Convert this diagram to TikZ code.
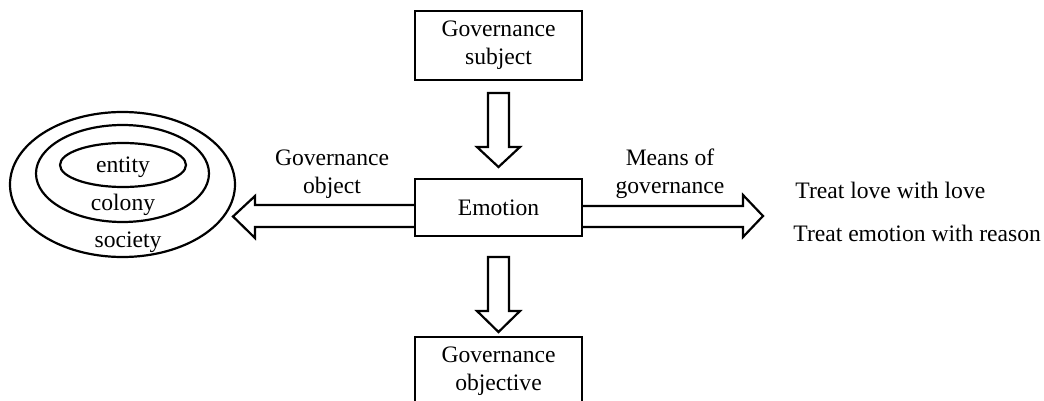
\documentclass[tikz,border=0pt]{standalone}
\usepackage{fontspec}
\setmainfont{Liberation Serif}
\begin{document}
\begin{tikzpicture}[x=0.5pt,y=-0.5pt,
  every node/.style={font=\fontsize{11.8}{14}\selectfont, inner sep=0pt, align=center},
  box/.style={draw, line width=1.1pt, minimum width=83.5pt},
  blk/.style={draw, line width=1.1pt, line join=miter, fill=white},
  ring/.style={draw, line width=1.1pt}]
\useasboundingbox (0,0) rectangle (1044,401);
% boxes
\node[box, minimum height=34.5pt] (sub) at (498.5,45.5) {Governance\\subject};
\node[box, minimum height=28.5pt] (emo) at (498.5,207.5) {Emotion};
\node[box, minimum height=34pt] (obj) at (498.5,371) {Governance\\objective};
% block arrows
\draw[blk] (488,93) -- (509,93) -- (509,147) -- (520,147) -- (498.5,167) -- (477,147) -- (488,147) -- cycle;
\draw[blk] (488,257) -- (509,257) -- (509,311) -- (520,311) -- (498.5,332) -- (477,311) -- (488,311) -- cycle;
\draw[blk] (emo.east |- 0,206) -- (743,206) -- (743,195) -- (763,216) -- (743,237) -- (743,227) -- (emo.east |- 0,227);
\draw[blk] (emo.west |- 0,205) -- (255,205) -- (255,196) -- (233,216.5) -- (255,238) -- (255,227) -- (emo.west |- 0,227);
% ellipses
\draw[ring] (122.5,184.5) ellipse [x radius=112.5, y radius=72.5];
\draw[ring] (122.5,173.5) ellipse [x radius=86.5, y radius=48.5];
\draw[ring] (123,165) ellipse [x radius=63, y radius=22];
\node (entity) at (123,167) {entity};
\node (colony) at (123,205) {colony};
\node (society) at (128,242) {society};
% labels
\node (gobj) at (332,174) {Governance\\object};
\node (means) at (670,174) {Means of\\governance};
\node[anchor=west] (love) at (795,190) {Treat love with love};
\node[anchor=west] (reason) at (793,233) {Treat emotion with reason};
\end{tikzpicture}
\end{document}
